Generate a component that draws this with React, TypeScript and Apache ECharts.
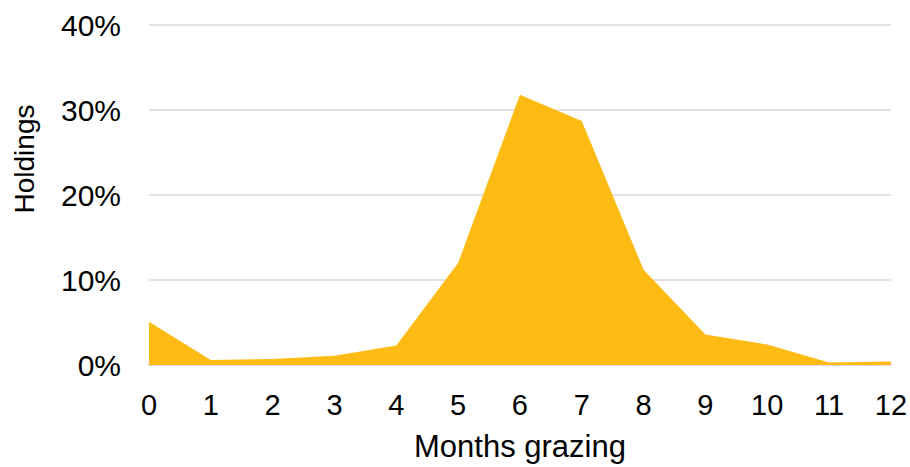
import React, { useEffect, useRef } from "react";
import * as echarts from "echarts";

// Months spent grazing (x) vs share of holdings (%)
const months = ["0", "1", "2", "3", "4", "5", "6", "7", "8", "9", "10", "11", "12"];
const holdingsPct = [5.1, 0.6, 0.7, 1.1, 2.3, 12.0, 31.8, 28.7, 11.2, 3.6, 2.4, 0.3, 0.4];
const yTicks = [0, 10, 20, 30, 40];

const FONT = "'Liberation Sans', Arial, sans-serif";

export default function App() {
  const ref = useRef<HTMLDivElement>(null);

  useEffect(() => {
    if (!ref.current) return;
    const chart = echarts.init(ref.current, undefined, { renderer: "svg" });
    chart.setOption({
      animation: false,
      grid: { left: 149, right: 19, top: 25, bottom: 98, containLabel: false },
      xAxis: {
        type: "category",
        data: months,
        boundaryGap: false,
        name: "Months grazing",
        nameLocation: "middle",
        nameGap: 66,
        nameTextStyle: { fontFamily: FONT, fontSize: 31, color: "#000" },
        axisLine: { lineStyle: { color: "#d9d9d9", width: 2 } },
        axisTick: { show: false },
        axisLabel: { fontFamily: FONT, fontSize: 29, color: "#000", margin: 25, interval: 0 },
        splitLine: { show: false },
      },
      yAxis: {
        type: "value",
        min: yTicks[0],
        max: yTicks[yTicks.length - 1],
        interval: 10,
        axisLine: { show: false },
        axisTick: { show: false },
        axisLabel: {
          fontFamily: FONT,
          fontSize: 30,
          color: "#000",
          margin: 28,
          formatter: (v: number) => `${v}%`,
        },
        splitLine: { lineStyle: { color: "#d9d9d9", width: 1.5 } },
      },
      graphic: [
        {
          type: "text",
          x: 24,
          y: 159,
          rotation: Math.PI / 2,
          style: {
            text: "Holdings",
            fontFamily: FONT,
            fontSize: 28,
            fill: "#000",
            align: "center",
            verticalAlign: "middle",
          },
        },
      ],
      series: [
        {
          type: "line",
          data: holdingsPct,
          symbol: "none",
          lineStyle: { width: 0 },
          areaStyle: { color: "#FDBB13", opacity: 1 },
          itemStyle: { color: "#FDBB13" },
        },
      ],
    });
    return () => chart.dispose();
  }, []);

  return <div ref={ref} style={{ width: 910, height: 467, position: "absolute", left: 0, top: 0 }} />;
}
